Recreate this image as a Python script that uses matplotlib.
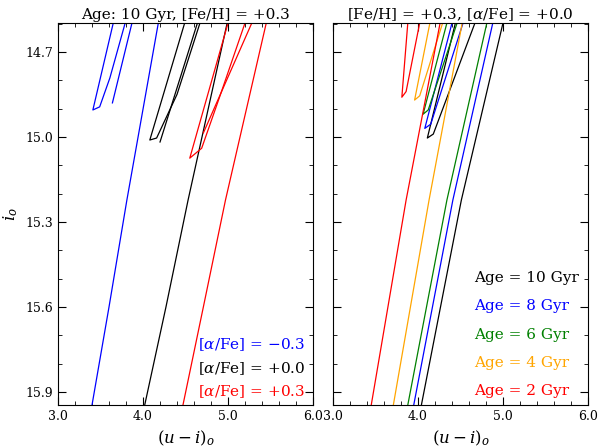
import matplotlib.pyplot as plt
from matplotlib.ticker import MultipleLocator

plt.rcParams['font.family'] = 'DejaVu Serif'
plt.rcParams['mathtext.fontset'] = 'dejavuserif'

# %% isochrone tracks: (u-i)_o and i_o per segment

# left panel: Age 10 Gyr, [Fe/H] = +0.3, varying [alpha/Fe]
alpha_labels = ['[$\\alpha$/Fe] = \u22120.3', '[$\\alpha$/Fe] = +0.0', '[$\\alpha$/Fe] = +0.3']
alpha_colors = ['blue', 'black', 'red']
alpha_main_x = [[3.40, 3.60, 3.81, 4.18], [4.02, 4.27, 4.53, 4.99], [4.47, 4.71, 4.97, 5.45]]
alpha_main_y = [[15.946, 15.60, 15.223, 14.598], [15.946, 15.60, 15.223, 14.598],
                [15.946, 15.60, 15.223, 14.598]]
alpha_loop_x = [[3.65, 3.41, 3.49, 3.61, 3.79], [4.49, 4.08, 4.16, 4.40, 4.67],
                [5.00, 4.55, 4.69, 4.90, 5.20]]
alpha_loop_y = [[14.598, 14.905, 14.894, 14.792, 14.598], [14.598, 15.011, 15.004, 14.85, 14.598],
                [14.598, 15.075, 15.04, 14.86, 14.598]]
alpha_branch_x = [[3.64, 3.87], [4.20, 4.64], [4.71, 5.28]]
alpha_branch_y = [[14.88, 14.598], [15.018, 14.598], [14.986, 14.598]]

# right panel: [Fe/H] = +0.3, [alpha/Fe] = +0.0, varying age
age_labels = ['Age = 10 Gyr', 'Age = 8 Gyr', 'Age = 6 Gyr', 'Age = 4 Gyr', 'Age = 2 Gyr']
age_colors = ['black', 'blue', 'green', 'orange', 'red']
age_main_x = [[4.04, 4.51, 5.00], [3.95, 4.41, 4.88], [3.88, 4.34, 4.81],
              [3.71, 4.13, 4.52], [3.45, 3.86, 4.26]]
age_main_y = [[15.946, 15.223, 14.598]] * 5
age_loop_x = [[4.44, 4.11, 4.18, 4.67], [4.40, 4.08, 4.15, 4.53], [4.34, 4.06, 4.12, 4.46],
              [4.14, 3.96, 4.02, 4.29], [3.88, 3.81, 3.86, 4.02]]
age_loop_y = [[14.598, 15.004, 14.99, 14.598], [14.598, 14.97, 14.955, 14.598],
              [14.598, 14.92, 14.905, 14.598], [14.598, 14.87, 14.855, 14.598],
              [14.598, 14.86, 14.84, 14.598]]

# %% figure

fig = plt.figure(figsize=(6.0, 4.47), dpi=100)
ax1 = fig.add_axes([0.0967, 0.094, 0.425, 0.8546])
ax2 = fig.add_axes([0.555, 0.094, 0.425, 0.8546])

for i, c in enumerate(alpha_colors):
    ax1.plot(alpha_main_x[i], alpha_main_y[i], color=c, lw=0.9)
    ax1.plot(alpha_loop_x[i], alpha_loop_y[i], color=c, lw=0.9)
    ax1.plot(alpha_branch_x[i], alpha_branch_y[i], color=c, lw=0.9)

for i, c in enumerate(age_colors):
    ax2.plot(age_main_x[i], age_main_y[i], color=c, lw=0.9)
    ax2.plot(age_loop_x[i], age_loop_y[i], color=c, lw=0.9)

for ax in (ax1, ax2):
    ax.set_xlim(3.0, 6.0)
    ax.set_ylim(15.946, 14.598)
    ax.xaxis.set_major_locator(MultipleLocator(1.0))
    ax.xaxis.set_minor_locator(MultipleLocator(0.2))
    ax.yaxis.set_major_locator(MultipleLocator(0.3))
    ax.yaxis.set_minor_locator(MultipleLocator(0.1))
    ax.tick_params(which='both', direction='in', top=True, right=True, labelsize=9)
    ax.tick_params(which='major', length=6)
    ax.tick_params(which='minor', length=3)
    ax.xaxis.set_major_formatter(plt.FormatStrFormatter('%.1f'))
    ax.yaxis.set_major_formatter(plt.FormatStrFormatter('%.1f'))
    ax.set_xlabel('$(u-i)_o$', fontsize=12)

ax2.set_yticklabels([])
ax1.set_ylabel('$i_o$', fontsize=12)
ax1.set_title('Age: 10 Gyr, [Fe/H] = +0.3', fontsize=11, pad=3)
ax2.set_title('[Fe/H] = +0.3, [$\\alpha$/Fe] = +0.0', fontsize=11, pad=3)

for i, (lab, c) in enumerate(zip(alpha_labels, alpha_colors)):
    ax1.text(0.549, 0.157 - i * 0.0615, lab, color=c, fontsize=11, va='center',
             transform=ax1.transAxes)
for i, (lab, c) in enumerate(zip(age_labels, age_colors)):
    ax2.text(0.553, 0.332 - i * 0.074, lab, color=c, fontsize=11, va='center',
             transform=ax2.transAxes)

fig.savefig('out.png', dpi=100)
